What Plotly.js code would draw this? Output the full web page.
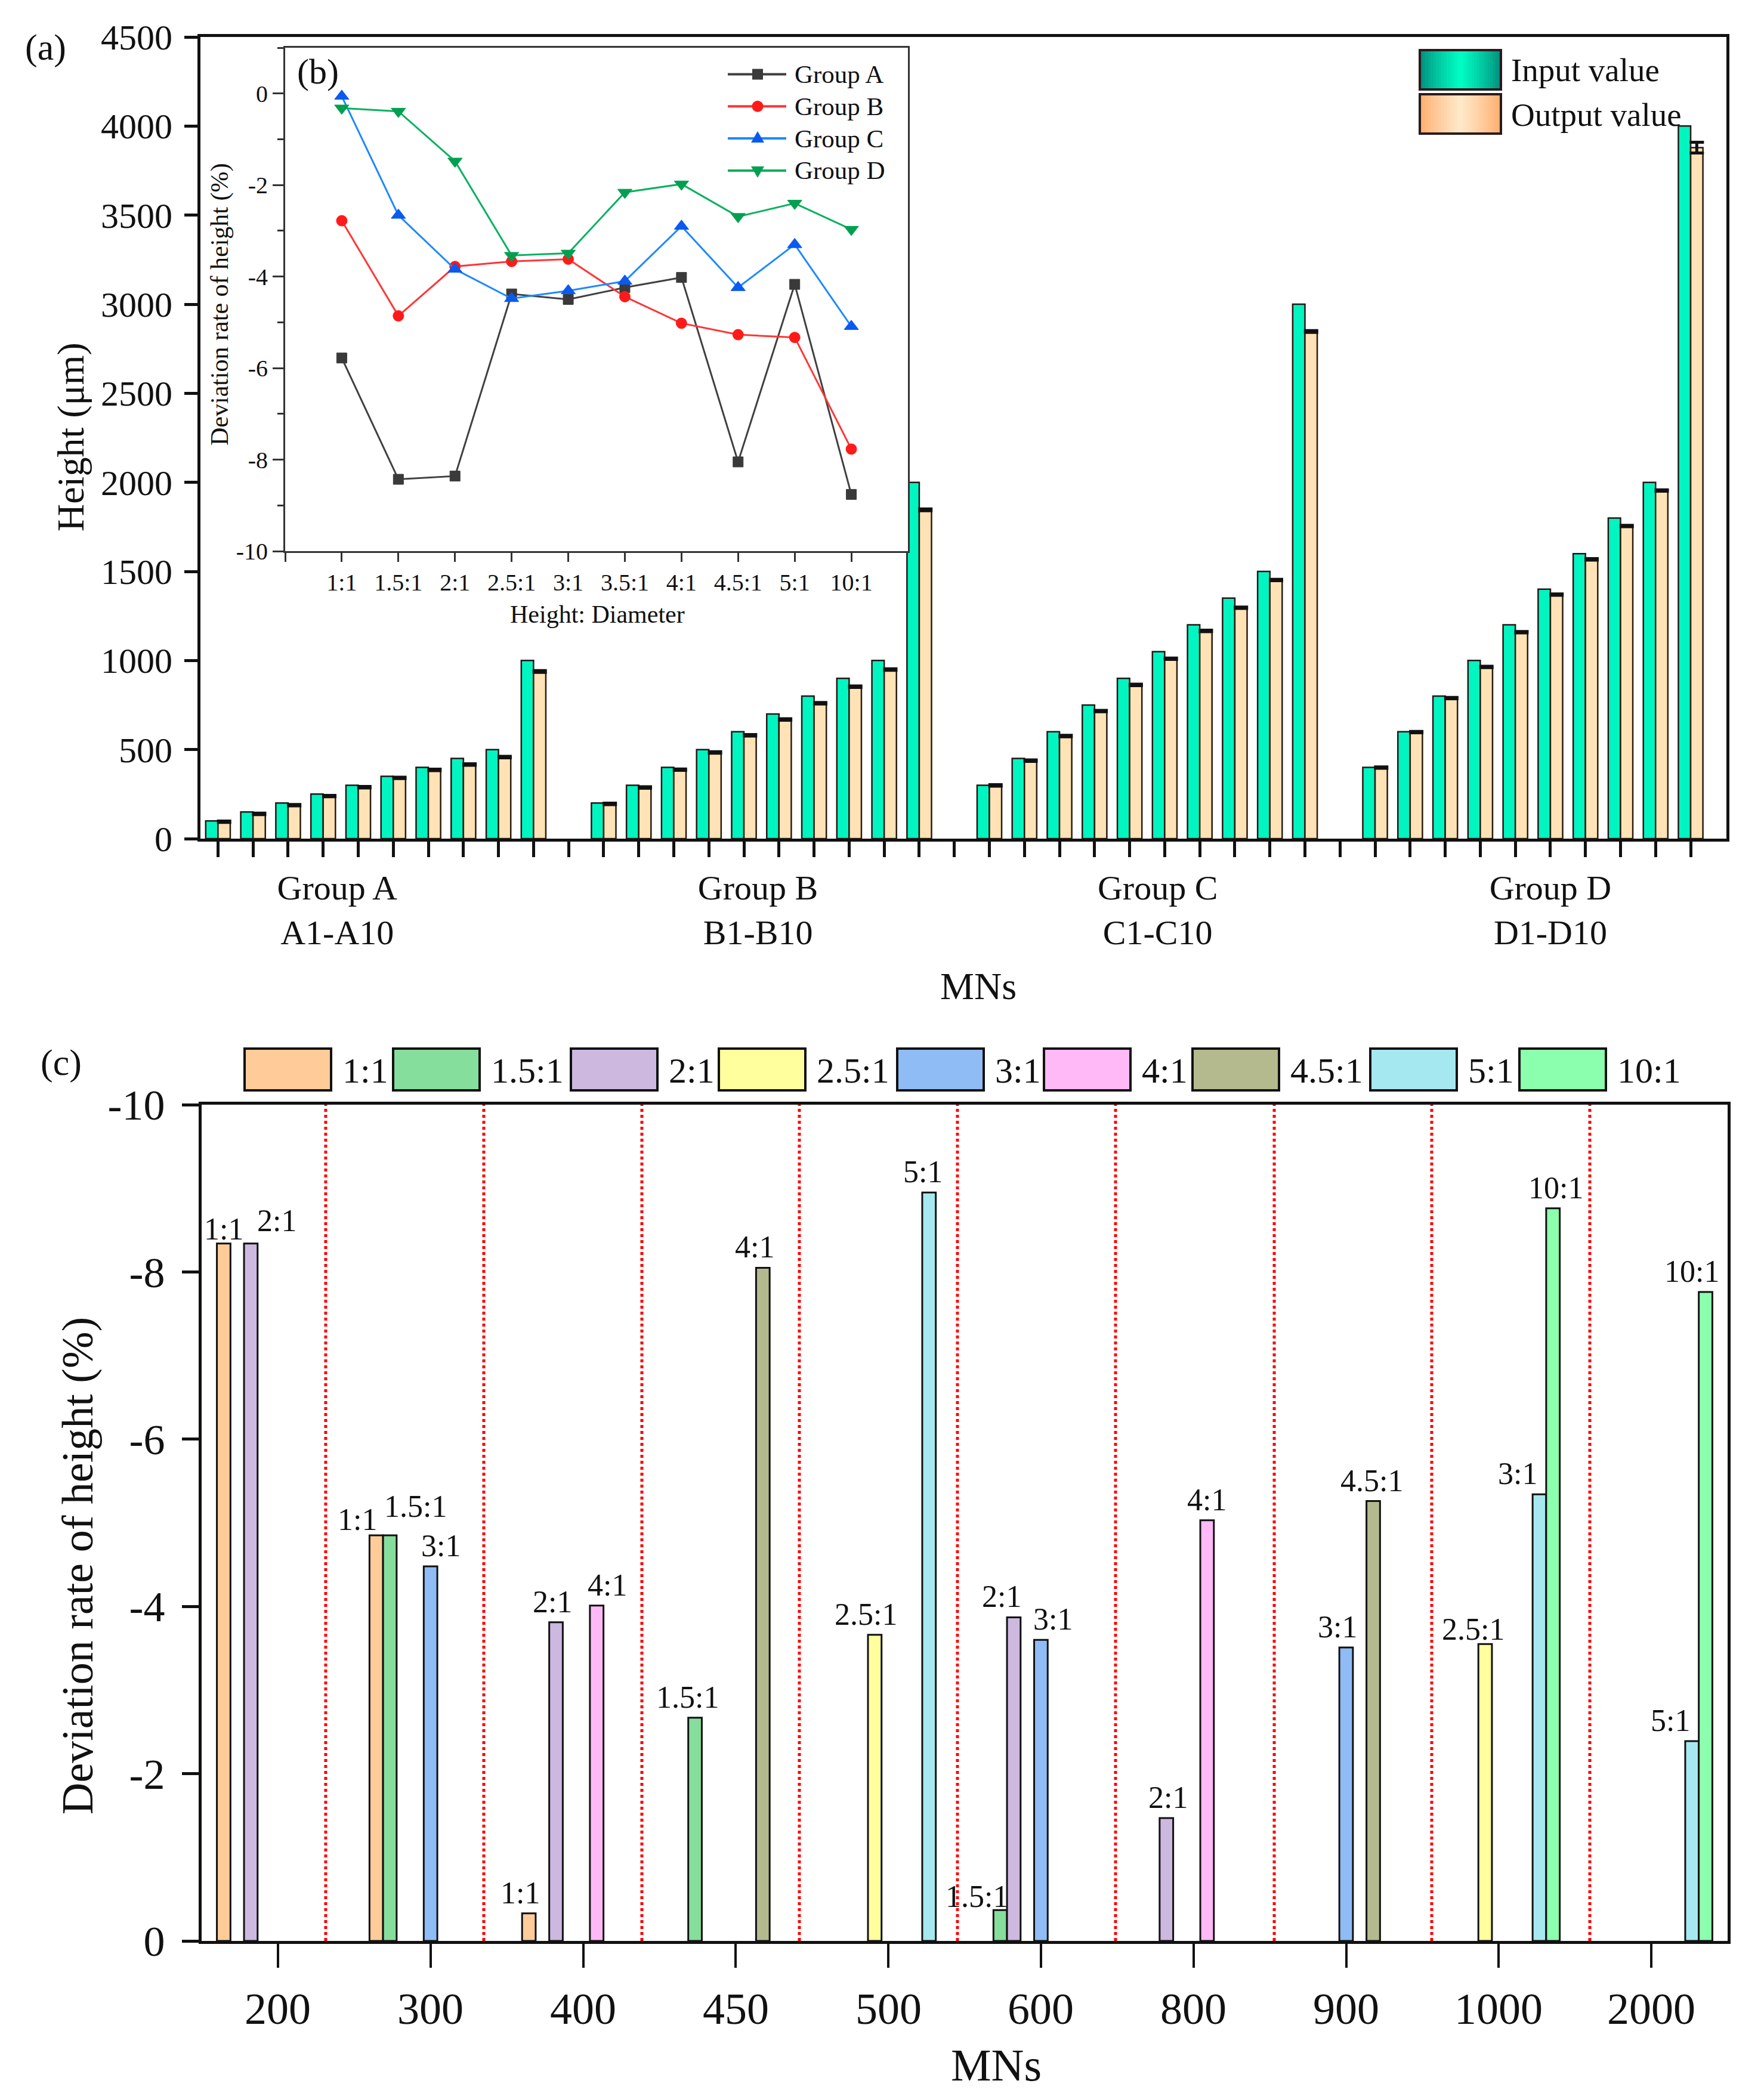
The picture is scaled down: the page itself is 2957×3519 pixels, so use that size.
<!DOCTYPE html>
<html><head><meta charset="utf-8">
<script src="https://cdn.plot.ly/plotly-3.0.1.min.js"></script>
<style>html,body{margin:0;padding:0;background:#fff}</style>
</head><body><div id="chart" style="width:2957px;height:3519px"></div>
<script>
// ================= DATA =================
// Panel (a): input / output heights (µm)
const groupNames  = ['Group A', 'Group B', 'Group C', 'Group D'];
const groupRanges = ['A1-A10', 'B1-B10', 'C1-C10', 'D1-D10'];
const inputA  = [100, 150, 200, 250, 300, 350, 400, 450, 500, 1000];
const outputA = [95, 139, 188, 239, 289, 341, 386, 416, 458, 938];
const inputB  = [200, 300, 400, 500, 600, 700, 800, 900, 1000, 2000];
const outputB = [195, 287, 387, 484, 580, 669, 760, 853, 949, 1846];
const inputC  = [300, 450, 600, 750, 900, 1050, 1200, 1350, 1500, 3000];
const outputC = [299, 438, 576, 716, 863, 1010, 1166, 1296, 1452, 2847];
const inputD  = [400, 600, 800, 1000, 1200, 1400, 1600, 1800, 2000, 4000];
const outputD = [399, 598, 789, 964, 1159, 1370, 1568, 1755, 1954, 3879];
const errA = [4, 4, 4, 4, 4, 4, 4, 4, 4, 5];
const errB = [4, 4, 4, 4, 4, 4, 4, 4, 4, 5];
const errC = [4, 4, 4, 4, 4, 4, 4, 4, 4, 5];
const errD = [4, 4, 4, 4, 4, 4, 4, 4, 4, 30];
const groupLabelPos = [4.4, 16.4, 27.8, 39.0];

// Panel (b): deviation rate (%) vs Height:Diameter
const ratios = ['1:1', '1.5:1', '2:1', '2.5:1', '3:1', '3.5:1', '4:1', '4.5:1', '5:1', '10:1'];
const devA = [-5.78, -8.43, -8.36, -4.38, -4.50, -4.24, -4.02, -8.05, -4.17, -8.76];
const devB = [-2.78, -4.86, -3.78, -3.67, -3.62, -4.44, -5.02, -5.27, -5.33, -7.77];
const devC = [-0.06, -2.66, -3.84, -4.48, -4.31, -4.10, -2.90, -4.24, -3.30, -5.09];
const devD = [-0.32, -0.39, -1.48, -3.54, -3.49, -2.16, -1.98, -2.69, -2.40, -2.97];

// Panel (c): deviation rate (%) by MN height
const mnCats = ['200', '300', '400', '450', '500', '600', '800', '900', '1000', '2000'];
const cNames = ['1:1', '1.5:1', '2:1', '2.5:1', '3:1', '4:1', '4.5:1', '5:1', '10:1'];
const c_1_1   = [-8.34, -4.85, -0.33, null, null, null, null, null, null, null];
const c_1_5_1 = [null, -4.85, null, -2.67, null, -0.37, null, null, null, null];
const c_2_1   = [-8.34, null, -3.81, null, null, -3.87, -1.47, null, null, null];
const c_2_5_1 = [null, null, null, null, -3.66, null, null, null, -3.55, null];
const c_3_1   = [null, -4.48, null, null, null, -3.60, null, -3.51, null, null];
const c_4_1   = [null, null, -4.01, null, null, null, -5.03, null, null, null];
const c_4_5_1 = [null, null, null, -8.05, null, null, null, -5.26, null, null];
const c_5_1   = [null, null, null, null, -8.95, null, null, null, -5.34, -2.39];
const c_10_1  = [null, null, null, null, null, null, null, null, -8.76, -7.76];
const lab_1_1   = ['1:1', '1:1', '1:1', '', '', '', '', '', '', ''];
const lab_1_5_1 = ['', '1.5:1', '', '1.5:1', '', '1.5:1', '', '', '', ''];
const lab_2_1   = ['2:1', '', '2:1', '', '', '2:1', '2:1', '', '', ''];
const lab_2_5_1 = ['', '', '', '', '2.5:1', '', '', '', '2.5:1', ''];
const lab_3_1   = ['', '3:1', '', '', '', '3:1', '', '3:1', '', ''];
const lab_4_1   = ['', '', '4:1', '', '', '', '4:1', '', '', ''];
const lab_4_5_1 = ['', '', '', '4:1', '', '', '', '4.5:1', '', ''];
const lab_5_1   = ['', '', '', '', '5:1', '', '', '', '3:1', '5:1'];
const lab_10_1  = ['', '', '', '', '', '', '', '', '10:1', '10:1'];
const yTicksDev = [0, -2, -4, -6, -8, -10];

// ================= STYLE / LAYOUT CONSTANTS =================
const W = 2957, H = 3519;
const FONT = 'Liberation Serif, Times New Roman, serif';
const INK = '#111111';
const px = v => v / W;
const py = v => 1 - v / H;
const cColors = ['#FFCC99', '#86DE9C', '#CDB8E0', '#FFFF9E', '#8FBCF5', '#FFB9F7', '#B4BA8E', '#A6E8F0', '#8CFFAE'];
// horizontal / vertical nudges (px) of the value labels in panel (c)
const labShift = [
  [0, -32, -15, 0, 0, 0, 0, 0, 0, 0],
  [0, 43, 0, -13, 0, -39, 0, 0, 0, 0],
  [44, 0, -6, 0, 0, -20, 3, 0, 0, 0],
  [0, 0, 0, 0, -15, 0, 0, 0, -20, 0],
  [0, 17, 0, 0, 0, 20, 0, -15, 0, 0],
  [0, 0, 18, 0, 0, 0, 0, 0, 0, 0],
  [0, 0, 0, -14, 0, 0, 0, -2, 0, 0],
  [0, 0, 0, 0, -10, 0, 0, 0, -37, -36],
  [0, 0, 0, 0, 0, 0, 0, 0, 5, -23]
];
const labLift = [
  [-6, -4, 4, 0, 0, 0, 0, 0, 0, 0],
  [0, 18, 0, 4, 0, -8, 0, 0, 0, 0],
  [8, 0, 4, 0, 0, 4, 4, 0, 0, 0],
  [0, 0, 0, 0, 4, 0, 0, 0, -6, 0],
  [0, 4, 0, 0, 0, 4, 0, 4, 0, 0],
  [0, 0, 4, 0, 0, 0, 4, 0, 0, 0],
  [0, 0, 0, 4, 0, 0, 0, 4, 0, 0],
  [0, 0, 0, 0, 4, 0, 0, 0, 4, 4],
  [0, 0, 0, 0, 0, 0, 0, 0, 4, 4]
];
const cLegendLeft = [410, 659, 957, 1205, 1504, 1750, 1999, 2297, 2547];
const sepPos = [0.313, 1.349, 2.385, 3.417, 4.453, 5.489, 6.529, 7.561, 8.597];
const cTickLabelY = 3368;

const domA = {x: [px(336), px(2894)], y: [py(1406), py(62)]};
const domB = {x: [px(478), px(1522)], y: [py(924), py(80)]};
const domC = {x: [px(338), px(2896)], y: [py(3254), py(1852)]};

// ================= TRACES =================
const traces = [];
const inputs = [inputA, inputB, inputC, inputD];
const outputs = [outputA, outputB, outputC, outputD];
const errs = [errA, errB, errC, errD];
const xPos = [], inVals = [], outVals = [], errVals = [];
inputs.forEach((arr, g) => arr.forEach((v, k) => {
  xPos.push(g * (arr.length + 1) + k + 1);
  inVals.push(v); outVals.push(outputs[g][k]); errVals.push(errs[g][k]);
}));
const allTickPos = [];
for (let i = 1; i <= xPos[xPos.length - 1]; i++) allTickPos.push(i);

traces.push({
  type: 'bar', x: xPos, y: inVals, xaxis: 'x', yaxis: 'y', name: 'Input value', showlegend: false,
  width: 0.35, offset: -0.35,
  marker: {color: '#00F5C0', line: {color: '#2a1414', width: 2.5}}
});
traces.push({
  type: 'bar', x: xPos, y: outVals, xaxis: 'x', yaxis: 'y', name: 'Output value', showlegend: false,
  width: 0.35, offset: 0,
  marker: {color: '#FFE3B6', line: {color: '#2a1a10', width: 2.5}},
  error_y: {type: 'data', array: errVals, visible: true, color: '#111', thickness: 5, width: 12}
});

const devs = [devA, devB, devC, devD];
const lineCols = ['#404040', '#FF3535', '#1E88FF', '#0AB060'];
const mkCols = ['#3a3a3a', '#FF1A1A', '#0A5AF0', '#00A050'];
const symbols = ['square', 'circle', 'triangle-up', 'triangle-down'];
const mkSizes = [17, 18, 21, 21];
devs.forEach((d, i) => traces.push({
  type: 'scatter', mode: 'lines+markers', x: ratios.map((_, k) => k), y: d,
  xaxis: 'x2', yaxis: 'y2', name: groupNames[i], showlegend: false,
  line: {color: lineCols[i], width: 3},
  marker: {symbol: symbols[i], size: mkSizes[i], color: mkCols[i], line: {color: mkCols[i], width: 1}}
}));

const cSeries = [c_1_1, c_1_5_1, c_2_1, c_2_5_1, c_3_1, c_4_1, c_4_5_1, c_5_1, c_10_1];
const cLabels = [lab_1_1, lab_1_5_1, lab_2_1, lab_2_5_1, lab_3_1, lab_4_1, lab_4_5_1, lab_5_1, lab_10_1];
cSeries.forEach((s, i) => traces.push({
  type: 'bar', x: mnCats, y: s, xaxis: 'x3', yaxis: 'y3', name: cNames[i], showlegend: false,
  marker: {color: cColors[i], line: {color: INK, width: 3}}
}));

// ================= SHAPES & ANNOTATIONS =================
const shapes = [], annotations = [];
function ann(text, x, y, size, extra) {
  annotations.push(Object.assign({
    text: text, xref: 'paper', yref: 'paper', x: px(x), y: py(y), showarrow: false,
    font: {family: FONT, size: size, color: INK}, xanchor: 'center', yanchor: 'middle'
  }, extra || {}));
}
function rect(x0, y0, x1, y1, fill, lineW, lineC) {
  shapes.push({type: 'rect', xref: 'paper', yref: 'paper', x0: px(x0), x1: px(x1), y0: py(y1), y1: py(y0),
    fillcolor: fill, line: {width: lineW || 0, color: lineC || INK}, layer: 'above'});
}
function hexToRgb(h) { return [1, 3, 5].map(i => parseInt(h.substr(i, 2), 16)); }
function mix(a, b, t) { const A = hexToRgb(a), B = hexToRgb(b);
  return 'rgb(' + A.map((v, i) => Math.round(v + (B[i] - v) * t)).join(',') + ')'; }
function gradBox(x0, y0, x1, y1, edge, center) {
  const n = 30, w = (x1 - x0) / n;
  for (let i = 0; i < n; i++) {
    const t = 1 - Math.abs((i + 0.5) / n - 0.5) * 2;
    rect(x0 + i * w, y0, x0 + (i + 1) * w + 0.6, y1, mix(edge, center, Math.pow(t, 0.8)), 0);
  }
  rect(x0, y0, x1, y1, 'rgba(0,0,0,0)', 4, '#2a1a1a');
}

// panel labels
ann('(a)', 76, 80, 62);
ann('(b)', 533, 120, 60);
ann('(c)', 102, 1781, 62);

// axis titles
ann('Height (μm)', 119, 733, 64, {textangle: -90});
ann('MNs', 1640, 1653, 64);
ann('Deviation rate of height (%)', 368, 511, 42, {textangle: -90});
ann('Height: Diameter', 1001, 1030, 42);
ann('Deviation rate of height (%)', 130, 2625, 74, {textangle: -90});
ann('MNs', 1670, 3462, 76);

// x tick labels panel (c)
mnCats.forEach((c, j) => annotations.push({text: c, xref: 'x3', yref: 'paper', x: j, y: py(cTickLabelY),
  showarrow: false, xanchor: 'center', yanchor: 'middle', font: {family: FONT, size: 74, color: INK}}));

// legend panel (a)
gradBox(2380, 84, 2516, 150, '#008878', '#00FFC4');
gradBox(2380, 158, 2516, 224, '#FFAA68', '#FFE9CA');
ann('Input value', 2531, 117, 55, {xanchor: 'left'});
ann('Output value', 2531, 192, 55, {xanchor: 'left'});

// legend panel (b)
groupNames.forEach((g, i) => {
  const yRow = 124.5 + i * 53.8;
  shapes.push({type: 'line', xref: 'paper', yref: 'paper', x0: px(1220), x1: px(1318), y0: py(yRow), y1: py(yRow),
    line: {color: lineCols[i], width: 4}, layer: 'above'});
  const base = {xref: 'paper', yref: 'paper', xsizemode: 'pixel', ysizemode: 'pixel',
    xanchor: px(1270), yanchor: py(yRow), fillcolor: mkCols[i], line: {width: 0}, layer: 'above'};
  if (i === 0) shapes.push(Object.assign({type: 'rect', x0: -9, x1: 9, y0: -9, y1: 9}, base));
  if (i === 1) shapes.push(Object.assign({type: 'circle', x0: -9.5, x1: 9.5, y0: -9.5, y1: 9.5}, base));
  if (i === 2) shapes.push(Object.assign({type: 'path', path: 'M-11,-7L11,-7L0,12Z'}, base));
  if (i === 3) shapes.push(Object.assign({type: 'path', path: 'M-11,7L11,7L0,-12Z'}, base));
  ann(g, 1330, yRow, 43, {xanchor: 'left'});
});

// legend panel (c)
cNames.forEach((n, i) => {
  const l = cLegendLeft[i];
  rect(l, 1758, l + 145, 1828, cColors[i], 4, INK);
  ann(n, l + 162, 1795, 60, {xanchor: 'left'});
});

// red dotted separators panel (c)
sepPos.forEach(p => shapes.push({type: 'line', xref: 'x3', yref: 'y3', x0: p, x1: p, y0: 0, y1: -10,
  line: {color: '#FF0000', width: 5, dash: 'dot'}, layer: 'below'}));

// value labels panel (c)  (category axis: annotation x = category index)
const plotWc = (domC.x[1] - domC.x[0]) * W;
const bargapC = 0.2;
const slotPx = plotWc / mnCats.length * (1 - bargapC) / cSeries.length;
cSeries.forEach((s, i) => s.forEach((v, j) => {
  if (v === null) return;
  annotations.push({text: cLabels[i][j], xref: 'x3', yref: 'y3', x: j, y: v, showarrow: false,
    xshift: (i - (cSeries.length - 1) / 2) * slotPx + labShift[i][j], yshift: labLift[i][j],
    xanchor: 'center', yanchor: 'bottom', font: {family: FONT, size: 52, color: INK}});
}));

// ================= LAYOUT =================
const axBase = {showline: true, linecolor: INK, mirror: true, zeroline: false, showgrid: false,
  ticks: 'outside', tickcolor: INK, fixedrange: true};

const layout = {
  width: W, height: H, margin: {l: 0, r: 0, t: 0, b: 0, autoexpand: false},
  paper_bgcolor: '#ffffff', plot_bgcolor: '#ffffff',
  font: {family: FONT, color: INK},
  barmode: 'group', bargap: bargapC, bargroupgap: 0,
  showlegend: false,
  xaxis: Object.assign({}, axBase, {domain: domA.x, anchor: 'y', range: [0.5, 44.02],
    tickmode: 'array', tickvals: groupLabelPos, ticktext: groupNames.map((g, i) => g + '<br>' + groupRanges[i]),
    ticks: '', ticklabelstandoff: 27, linewidth: 5, tickfont: {family: FONT, size: 58, color: INK},
    minor: {tickmode: 'array', tickvals: allTickPos, ticks: 'outside', ticklen: 26, tickwidth: 5, tickcolor: INK}}),
  yaxis: Object.assign({}, axBase, {domain: domA.y, anchor: 'x', range: [0, 4500],
    tickmode: 'array', tickvals: [0, 500, 1000, 1500, 2000, 2500, 3000, 3500, 4000, 4500],
    ticklen: 22, tickwidth: 5, linewidth: 5, ticklabelstandoff: 8, tickfont: {family: FONT, size: 60, color: INK}}),
  xaxis2: Object.assign({}, axBase, {domain: domB.x, anchor: 'y2', range: [-1, 10],
    tickmode: 'array', tickvals: [-1].concat(ratios.map((_, k) => k)), ticktext: [''].concat(ratios),
    ticklen: 15, tickwidth: 3, linewidth: 3, linecolor: '#333', tickcolor: '#333', ticklabelstandoff: 0,
    tickfont: {family: FONT, size: 40, color: INK}}),
  yaxis2: Object.assign({}, axBase, {domain: domB.y, anchor: 'x2', range: [-10, 1],
    tickmode: 'array', tickvals: yTicksDev, ticktext: yTicksDev.map(String),
    ticklen: 18, tickwidth: 3, linewidth: 3, linecolor: '#333', tickcolor: '#333',
    minor: {dtick: 1, tick0: 0, ticks: 'outside', ticklen: 10, tickwidth: 3, tickcolor: '#333'},
    tickfont: {family: FONT, size: 40, color: INK}}),
  xaxis3: Object.assign({}, axBase, {domain: domC.x, anchor: 'y3', type: 'category', range: [-0.5, 9.5],
    ticklen: 40, tickwidth: 4, linewidth: 5, showticklabels: false}),
  yaxis3: Object.assign({}, axBase, {domain: domC.y, anchor: 'x3', range: [0, -10],
    tickmode: 'array', tickvals: yTicksDev, ticktext: yTicksDev.map(String),
    ticklen: 28, tickwidth: 5, linewidth: 5, ticklabelstandoff: 14,
    tickfont: {family: FONT, size: 72, color: INK}}),
  shapes: shapes,
  annotations: annotations
};

Plotly.newPlot('chart', traces, layout, {staticPlot: true, displayModeBar: false});
</script>
</body></html>
